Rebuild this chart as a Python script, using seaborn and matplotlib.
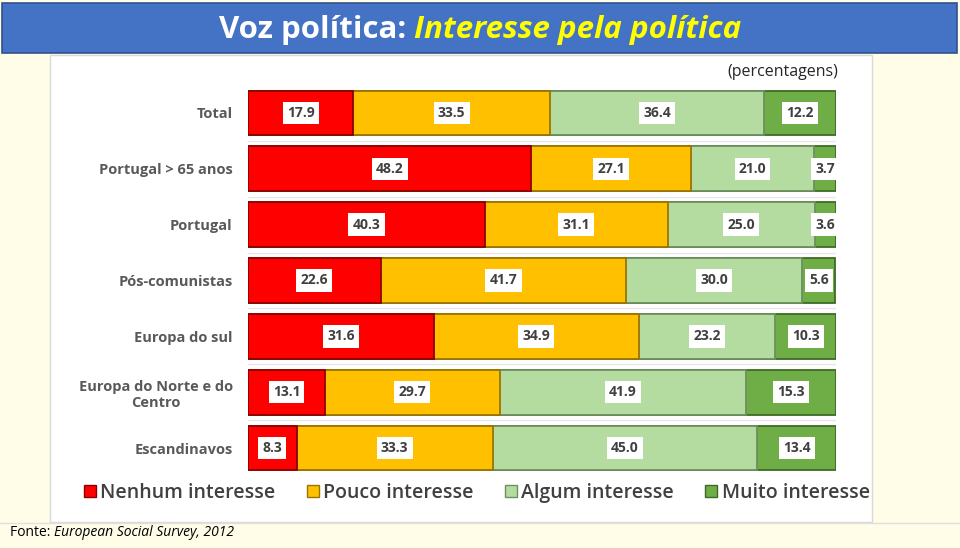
import matplotlib
matplotlib.use("Agg")
import matplotlib.pyplot as plt
import seaborn as sns
import numpy as np
import pandas as pd
from matplotlib.patches import Rectangle
from matplotlib.lines import Line2D

categories = ["Total", "Portugal > 65 anos", "Portugal", "Pós-comunistas",
              "Europa do sul", "Europa do Norte e do\nCentro", "Escandinavos"]
series = ["Nenhum interesse", "Pouco interesse", "Algum interesse", "Muito interesse"]
nenhum = [17.9, 48.2, 40.3, 22.6, 31.6, 13.1, 8.3]
pouco = [33.5, 27.1, 31.1, 41.7, 34.9, 29.7, 33.3]
algum = [36.4, 21.0, 25.0, 30.0, 23.2, 41.9, 45.0]
muito = [12.2, 3.7, 3.6, 5.6, 10.3, 15.3, 13.4]

colors = ["#FF0000", "#FFC000", "#B4DCA0", "#6FAD47"]
edges = ["#8B0000", "#9A7400", "#6E8F5E", "#3D6A24"]

sns.set_theme(style="white")
plt.rcParams['font.family'] = ['Open Sans', 'DejaVu Sans']

fig = plt.figure(figsize=(9.6, 5.48), dpi=100)
fig.patch.set_facecolor("#FFFDE8")

W, H = 960, 548
def fx(x): return x / W
def fy(y): return 1 - y / H

# white panel
fig.add_artist(Rectangle((fx(50), fy(522)), fx(872) - fx(50), fy(55) - fy(522),
                         transform=fig.transFigure, facecolor="white",
                         edgecolor="#D9D9D9", lw=1, zorder=0))
# title banner
fig.add_artist(Rectangle((fx(2), fy(53)), fx(957) - fx(2), fy(3) - fy(53),
                         transform=fig.transFigure, facecolor="#4472C4",
                         edgecolor="#2F528F", lw=1.2, zorder=1))
part1 = "Voz política: "
part2 = "Interesse pela política"
tsize = 22.5
tmp1 = fig.text(0, 0, part1, fontsize=tsize, fontweight="bold")
tmp2 = fig.text(0, 0, part2, fontsize=tsize, fontweight="bold", style="italic")
fig.canvas.draw()
r = fig.canvas.get_renderer()
w1 = tmp1.get_window_extent(r).width / W
w2 = tmp2.get_window_extent(r).width / W
tmp1.remove(); tmp2.remove()
x0 = fx(480) - (w1 + w2) / 2
fig.text(x0, fy(30), part1, color="white", fontsize=tsize, fontweight="bold",
         ha="left", va="center", zorder=3)
fig.text(x0 + w1, fy(30), part2, color="#FFFF00", fontsize=tsize, fontweight="bold",
         style="italic", ha="left", va="center", zorder=3)

ax = fig.add_axes([fx(248), fy(476), fx(836) - fx(248), fy(85) - fy(476)])
ax.set_facecolor("none")

vals = np.array([nenhum, pouco, algum, muito])
cum = np.cumsum(vals, axis=0)
df = pd.DataFrame({"cat": categories})

# draw cumulative bars from widest to narrowest
for i in range(3, -1, -1):
    df["v"] = cum[i]
    sns.barplot(data=df, x="v", y="cat", orient="h", color=colors[i],
                saturation=1, width=0.8, edgecolor=edges[i], linewidth=1.3,
                ax=ax, zorder=2)

# separator lines
for k in range(len(categories) - 1):
    ax.axhline(k + 0.5, color="#E6E6E6", lw=1, zorder=1)

# labels
for i in range(4):
    for j in range(len(categories)):
        start = cum[i][j] - vals[i][j]
        xc = start + vals[i][j] / 2
        if vals[i][j] < 5:
            xc = max(xc, 97.9)
        ax.text(xc, j, f"{vals[i][j]:.1f}", ha="center", va="center",
                fontsize=10, fontweight="bold", color="#404040", zorder=5,
                bbox=dict(boxstyle="square,pad=0.3", fc="white", ec="none"))

ax.set_xlim(0, 100)
ax.set_ylim(6.5, -0.5)
ax.set_xlabel("")
ax.set_ylabel("")
ax.set_xticks([])
ax.tick_params(axis="y", length=0, pad=11)
ax.set_yticks(range(len(categories)))
ax.set_yticklabels(categories, fontsize=10.5, fontweight="bold", color="#595959",
                   multialignment="center")
for s in ax.spines.values():
    s.set_visible(False)

# percentagens
fig.text(fx(838), fy(72), "(percentagens)", ha="right", va="center",
         fontsize=11.5, color="#262626")

# legend
handles = [Line2D([0], [0], marker="s", ls="", markersize=9,
                  markerfacecolor=colors[i], markeredgecolor=edges[i])
           for i in range(4)]
fig.legend(handles, series, loc="center", bbox_to_anchor=(fx(476), fy(493)),
           ncol=4, frameon=False, handletextpad=0.15, columnspacing=1.5,
           prop={"size": 14, "weight": "semibold"}, labelcolor="#404040",
           handlelength=0.8)

# footer
fig.add_artist(Line2D([0, 1], [fy(523), fy(523)], transform=fig.transFigure,
                      color="#E0E0E0", lw=1))
ft = fig.text(fx(10), fy(533), "Fonte: ", fontsize=10, color="black",
              ha="left", va="center")
fig.canvas.draw()
wf = ft.get_window_extent(fig.canvas.get_renderer()).width / W
fig.text(fx(10) + wf, fy(533), "European Social Survey, 2012", fontsize=10,
         style="italic", color="black", ha="left", va="center")

fig.savefig("out.png", dpi=100, facecolor=fig.get_facecolor())
